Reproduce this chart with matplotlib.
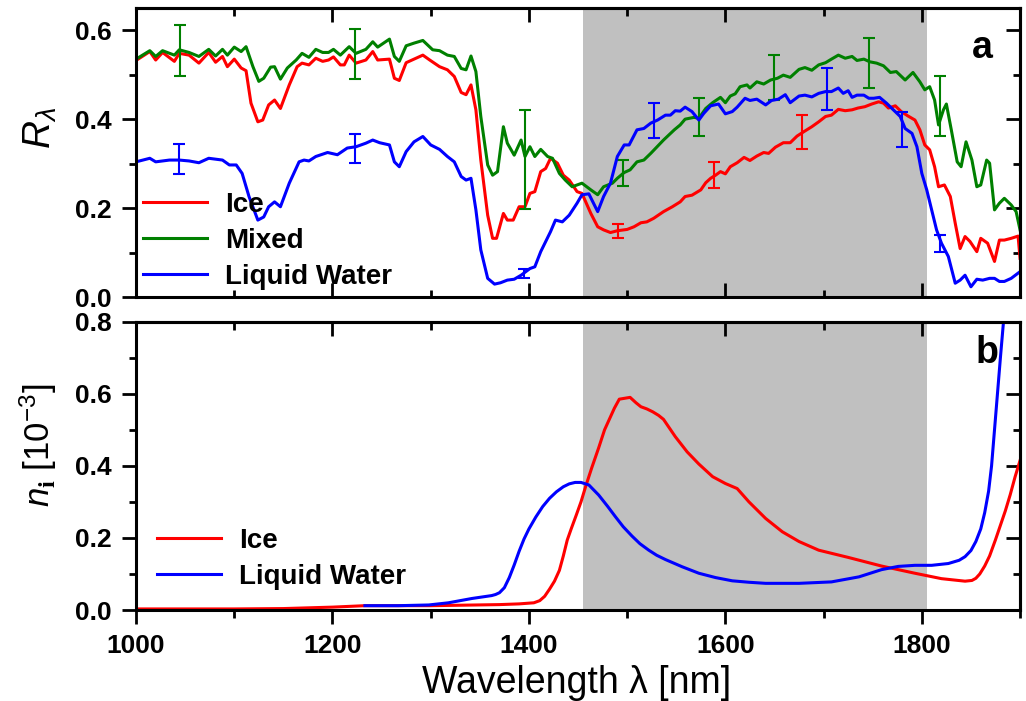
import numpy as np
import matplotlib
matplotlib.use('Agg')
import matplotlib.pyplot as plt
from matplotlib.ticker import MultipleLocator

plt.rcParams['font.family'] = ['Liberation Sans', 'DejaVu Sans']
plt.rcParams['font.weight'] = 'bold'
plt.rcParams['mathtext.fontset'] = 'custom'
plt.rcParams['mathtext.rm'] = 'Liberation Sans:weight=normal'
plt.rcParams['mathtext.it'] = 'Liberation Sans:style=italic:weight=normal'
plt.rcParams['mathtext.bf'] = 'Liberation Serif:weight=bold'

# ---- panel a: reflectance (wavelength nm, R) ----
refl_ice = [
    (1000, 0.532), (1014, 0.552), (1020, 0.533), (1027, 0.550), (1039, 0.530), (1044, 0.548),
    (1054, 0.544), (1064, 0.526), (1074, 0.550), (1081, 0.528), (1088, 0.541), (1093, 0.518),
    (1100, 0.535), (1107, 0.515), (1112, 0.509), (1117, 0.436), (1124, 0.394), (1129, 0.398),
    (1135, 0.432), (1141, 0.443), (1147, 0.424), (1156, 0.477), (1164, 0.518), (1169, 0.526),
    (1176, 0.522), (1183, 0.537), (1190, 0.530), (1196, 0.533), (1201, 0.540), (1208, 0.522),
    (1212, 0.522), (1217, 0.544), (1224, 0.526), (1234, 0.533), (1241, 0.552), (1246, 0.533),
    (1258, 0.535), (1263, 0.492), (1268, 0.487), (1275, 0.527), (1283, 0.535), (1292, 0.544),
    (1299, 0.533), (1309, 0.518), (1317, 0.511), (1324, 0.496), (1331, 0.460), (1336, 0.455),
    (1341, 0.477), (1346, 0.421), (1351, 0.308), (1358, 0.184), (1363, 0.132), (1367, 0.132),
    (1374, 0.188), (1378, 0.173), (1384, 0.173), (1390, 0.203), (1396, 0.203), (1401, 0.233),
    (1406, 0.237), (1412, 0.282), (1417, 0.289), (1422, 0.312), (1429, 0.301), (1435, 0.274),
    (1441, 0.263), (1449, 0.237), (1454, 0.233), (1463, 0.188), (1470, 0.158), (1476, 0.151),
    (1483, 0.145), (1490, 0.149), (1500, 0.152), (1507, 0.158), (1514, 0.167), (1520, 0.169),
    (1527, 0.177), (1537, 0.192), (1546, 0.203), (1554, 0.214), (1559, 0.226), (1566, 0.229),
    (1575, 0.241), (1580, 0.257), (1585, 0.267), (1590, 0.274), (1595, 0.282), (1600, 0.277),
    (1605, 0.293), (1612, 0.302), (1619, 0.314), (1625, 0.307), (1632, 0.317), (1639, 0.325),
    (1644, 0.323), (1651, 0.337), (1659, 0.347), (1666, 0.347), (1673, 0.362), (1680, 0.372),
    (1688, 0.383), (1695, 0.394), (1702, 0.406), (1708, 0.409), (1715, 0.422), (1722, 0.419),
    (1729, 0.421), (1735, 0.425), (1742, 0.428), (1749, 0.434), (1756, 0.439), (1761, 0.436),
    (1766, 0.425), (1773, 0.430), (1779, 0.417), (1786, 0.407), (1793, 0.398), (1798, 0.376),
    (1803, 0.342), (1808, 0.331), (1813, 0.293), (1817, 0.248), (1823, 0.252), (1829, 0.226),
    (1834, 0.166), (1839, 0.109), (1844, 0.136), (1849, 0.125), (1856, 0.102), (1860, 0.132),
    (1867, 0.121), (1874, 0.080), (1879, 0.128), (1884, 0.128), (1891, 0.132), (1898, 0.137),
    (1900, 0.087),
]

refl_mixed = [
    (1000, 0.535), (1014, 0.554), (1020, 0.541), (1027, 0.554), (1039, 0.544), (1044, 0.556),
    (1054, 0.550), (1064, 0.541), (1074, 0.557), (1081, 0.542), (1088, 0.557), (1093, 0.544),
    (1100, 0.562), (1107, 0.552), (1112, 0.563), (1119, 0.518), (1125, 0.485), (1130, 0.492),
    (1137, 0.517), (1141, 0.518), (1147, 0.490), (1154, 0.515), (1163, 0.533), (1169, 0.548),
    (1176, 0.539), (1183, 0.557), (1190, 0.550), (1196, 0.550), (1201, 0.557), (1208, 0.544),
    (1217, 0.563), (1224, 0.548), (1234, 0.557), (1241, 0.574), (1246, 0.562), (1258, 0.580),
    (1263, 0.541), (1268, 0.530), (1275, 0.565), (1283, 0.571), (1292, 0.577), (1302, 0.556),
    (1309, 0.554), (1317, 0.544), (1324, 0.541), (1331, 0.514), (1336, 0.511), (1341, 0.542),
    (1346, 0.507), (1351, 0.406), (1358, 0.297), (1363, 0.274), (1368, 0.282), (1374, 0.383),
    (1378, 0.346), (1385, 0.319), (1392, 0.353), (1396, 0.316), (1401, 0.338), (1406, 0.316),
    (1412, 0.332), (1419, 0.316), (1424, 0.312), (1431, 0.278), (1437, 0.263), (1444, 0.248),
    (1454, 0.256), (1463, 0.241), (1470, 0.230), (1476, 0.248), (1485, 0.256), (1490, 0.267),
    (1497, 0.280), (1503, 0.286), (1510, 0.304), (1517, 0.308), (1524, 0.323), (1537, 0.353),
    (1548, 0.376), (1554, 0.387), (1559, 0.400), (1568, 0.404), (1573, 0.402), (1580, 0.424),
    (1587, 0.437), (1595, 0.449), (1600, 0.437), (1605, 0.452), (1610, 0.457), (1615, 0.473),
    (1622, 0.477), (1625, 0.470), (1632, 0.484), (1639, 0.479), (1646, 0.488), (1653, 0.492),
    (1659, 0.499), (1666, 0.494), (1675, 0.512), (1681, 0.516), (1688, 0.510), (1695, 0.522),
    (1702, 0.527), (1708, 0.535), (1715, 0.544), (1722, 0.537), (1729, 0.541), (1734, 0.532),
    (1741, 0.535), (1747, 0.529), (1754, 0.526), (1761, 0.520), (1768, 0.505), (1774, 0.507),
    (1783, 0.488), (1791, 0.505), (1798, 0.484), (1803, 0.466), (1808, 0.473), (1813, 0.443),
    (1817, 0.387), (1822, 0.421), (1825, 0.434), (1830, 0.376), (1836, 0.304), (1840, 0.293),
    (1845, 0.349), (1851, 0.308), (1856, 0.248), (1860, 0.252), (1866, 0.308), (1869, 0.301),
    (1874, 0.196), (1879, 0.211), (1884, 0.222), (1891, 0.207), (1896, 0.192), (1900, 0.151),
]

refl_water = [
    (1000, 0.304), (1014, 0.312), (1020, 0.304), (1034, 0.308), (1044, 0.308), (1054, 0.306),
    (1064, 0.302), (1074, 0.312), (1088, 0.308), (1095, 0.297), (1102, 0.297), (1108, 0.278),
    (1115, 0.226), (1124, 0.173), (1130, 0.180), (1135, 0.203), (1141, 0.214), (1147, 0.203),
    (1156, 0.256), (1166, 0.304), (1171, 0.308), (1176, 0.306), (1183, 0.316), (1195, 0.325),
    (1205, 0.320), (1215, 0.335), (1224, 0.338), (1234, 0.346), (1241, 0.353), (1248, 0.347),
    (1258, 0.342), (1263, 0.304), (1268, 0.293), (1275, 0.327), (1283, 0.349), (1292, 0.361),
    (1300, 0.342), (1309, 0.332), (1317, 0.316), (1324, 0.304), (1331, 0.271), (1336, 0.263),
    (1341, 0.267), (1346, 0.196), (1351, 0.106), (1358, 0.042), (1365, 0.029), (1371, 0.032),
    (1378, 0.038), (1385, 0.040), (1392, 0.049), (1401, 0.064), (1406, 0.068), (1412, 0.102),
    (1422, 0.147), (1427, 0.173), (1434, 0.169), (1441, 0.184), (1449, 0.211), (1454, 0.230),
    (1461, 0.232), (1470, 0.192), (1476, 0.226), (1483, 0.256), (1490, 0.316), (1497, 0.342),
    (1502, 0.342), (1510, 0.376), (1517, 0.379), (1524, 0.391), (1531, 0.398), (1539, 0.409),
    (1544, 0.409), (1549, 0.419), (1554, 0.418), (1559, 0.427), (1566, 0.417), (1573, 0.398),
    (1578, 0.413), (1585, 0.430), (1593, 0.434), (1600, 0.412), (1607, 0.417), (1612, 0.427),
    (1620, 0.447), (1625, 0.442), (1632, 0.445), (1641, 0.432), (1647, 0.442), (1654, 0.445),
    (1661, 0.455), (1666, 0.437), (1675, 0.452), (1681, 0.454), (1688, 0.450), (1695, 0.458),
    (1702, 0.462), (1708, 0.462), (1715, 0.470), (1720, 0.458), (1725, 0.464), (1729, 0.449),
    (1734, 0.454), (1741, 0.454), (1746, 0.447), (1751, 0.447), (1757, 0.449), (1764, 0.436),
    (1771, 0.421), (1778, 0.406), (1783, 0.379), (1790, 0.368), (1795, 0.338), (1800, 0.278),
    (1805, 0.241), (1810, 0.196), (1815, 0.151), (1820, 0.121), (1827, 0.091), (1834, 0.031),
    (1839, 0.038), (1844, 0.049), (1850, 0.023), (1856, 0.040), (1862, 0.038), (1869, 0.042),
    (1874, 0.042), (1879, 0.035), (1884, 0.035), (1891, 0.042), (1900, 0.057),
]

# error bars (wavelength, centre, half-width)
err_ice = [(1491, 0.149, 0.016), (1588, 0.275, 0.029), (1678, 0.371, 0.038)]
err_mixed = [(1045, 0.555, 0.057), (1223, 0.546, 0.056), (1396, 0.310, 0.111),
             (1496, 0.279, 0.029), (1573, 0.405, 0.042), (1649, 0.494, 0.050),
             (1746, 0.526, 0.057), (1818, 0.430, 0.067)]
err_water = [(1044, 0.310, 0.033), (1223, 0.334, 0.033), (1395, 0.052, 0.010),
             (1527, 0.397, 0.040), (1703, 0.468, 0.047), (1780, 0.376, 0.039),
             (1818, 0.121, 0.019)]

# ---- panel b: imaginary refractive index (x 1e-3) ----
ni_ice = [
    (1000, 0.003), (1100, 0.003), (1150, 0.004), (1200, 0.008), (1233, 0.012), (1300, 0.012),
    (1370, 0.015), (1390, 0.017), (1405, 0.020), (1411, 0.026), (1416, 0.038), (1421, 0.058),
    (1426, 0.080), (1431, 0.110), (1435, 0.150), (1439, 0.194), (1443, 0.225), (1448, 0.262),
    (1453, 0.300), (1458, 0.345), (1464, 0.395), (1471, 0.450), (1477, 0.500), (1482, 0.530),
    (1487, 0.560), (1492, 0.585), (1503, 0.590), (1509, 0.575), (1514, 0.564), (1520, 0.558),
    (1526, 0.550), (1532, 0.540), (1537, 0.529), (1549, 0.481), (1561, 0.439), (1573, 0.405),
    (1587, 0.370), (1600, 0.351), (1612, 0.337), (1624, 0.300), (1641, 0.254), (1658, 0.217),
    (1675, 0.190), (1695, 0.166), (1725, 0.146), (1759, 0.122), (1793, 0.102), (1820, 0.087),
    (1844, 0.080), (1851, 0.082), (1855, 0.088), (1859, 0.100), (1864, 0.122), (1869, 0.150),
    (1875, 0.195), (1880, 0.235), (1885, 0.275), (1890, 0.320), (1895, 0.370), (1900, 0.415),
]

ni_water = [
    (1233, 0.012), (1267, 0.012), (1298, 0.014), (1318, 0.020), (1342, 0.032), (1362, 0.040),
    (1366, 0.043), (1370, 0.048), (1375, 0.062), (1380, 0.090), (1385, 0.125), (1390, 0.163),
    (1395, 0.197), (1400, 0.225), (1407, 0.258), (1414, 0.287), (1421, 0.310), (1428, 0.328),
    (1435, 0.342), (1441, 0.350), (1447, 0.354), (1453, 0.354), (1461, 0.347), (1471, 0.319),
    (1480, 0.288), (1488, 0.259), (1496, 0.231), (1505, 0.205), (1513, 0.184), (1522, 0.166),
    (1530, 0.152), (1539, 0.140), (1556, 0.120), (1573, 0.102), (1590, 0.090), (1607, 0.081),
    (1624, 0.077), (1641, 0.074), (1675, 0.074), (1708, 0.078), (1736, 0.092), (1759, 0.112),
    (1776, 0.121), (1793, 0.124), (1810, 0.124), (1827, 0.129), (1838, 0.138), (1844, 0.148),
    (1850, 0.165), (1855, 0.190), (1860, 0.225), (1864, 0.270), (1868, 0.330), (1871, 0.400),
    (1874, 0.500), (1877, 0.600), (1880, 0.700), (1883, 0.795), (1886, 0.880),
]

band = (1455, 1805)
RED, GREEN, BLUE = '#ff0000', '#008000', '#0000ff'
LW = 2.2
FS_TICK = 19
FS_LEG = 20


def xy(pairs):
    a = np.array(pairs, dtype=float)
    return a[:, 0], a[:, 1]


def style_axes(ax, bottom_dir):
    for s in ax.spines.values():
        s.set_linewidth(2.2)
    ax.set_xlim(1000, 1900)
    ax.xaxis.set_major_locator(MultipleLocator(200))
    ax.xaxis.set_minor_locator(MultipleLocator(100))
    ax.yaxis.set_major_locator(MultipleLocator(0.2))
    ax.yaxis.set_minor_locator(MultipleLocator(0.1))
    ax.yaxis.set_major_formatter(plt.FormatStrFormatter('%.1f'))
    ax.tick_params(which='both', width=2, labelsize=FS_TICK, pad=7.5)
    ax.tick_params(which='major', length=10)
    ax.tick_params(which='minor', length=5.4)
    ax.tick_params(axis='y', which='both', direction='out', right=False)
    ax.tick_params(axis='x', which='both', direction=bottom_dir, top=False)
    sx = ax.secondary_xaxis('top')
    sx.xaxis.set_major_locator(MultipleLocator(200))
    sx.xaxis.set_minor_locator(MultipleLocator(100))
    sx.tick_params(which='both', direction='in', width=2, labeltop=False)
    sx.tick_params(which='major', length=10)
    sx.tick_params(which='minor', length=5.4)
    sx.spines['top'].set_linewidth(2.2)
    sy = ax.secondary_yaxis('right')
    sy.yaxis.set_major_locator(MultipleLocator(0.2))
    sy.yaxis.set_minor_locator(MultipleLocator(0.1))
    sy.tick_params(which='both', direction='in', width=2, labelright=False)
    sy.tick_params(which='major', length=10)
    sy.tick_params(which='minor', length=5.4)
    sy.spines['right'].set_linewidth(2.2)


def add_legend(ax, x0, y0):
    ax.legend(loc='upper left', bbox_to_anchor=(x0, y0), frameon=False,
              fontsize=FS_LEG, handlelength=2.3, handletextpad=0.65,
              labelspacing=0.36, borderaxespad=0, borderpad=0)


fig = plt.figure(figsize=(10.26, 7.01), dpi=100)
ax1 = fig.add_axes([0.1326, 0.5763, 0.8616, 0.4123])
ax2 = fig.add_axes([0.1326, 0.1298, 0.8616, 0.4113])

# panel a
ax1.axvspan(*band, color='#c0c0c0', lw=0, zorder=0)
for pairs, errs, col, lab in [(refl_ice, err_ice, RED, 'Ice'),
                              (refl_mixed, err_mixed, GREEN, 'Mixed'),
                              (refl_water, err_water, BLUE, 'Liquid Water')]:
    x, y = xy(pairs)
    ax1.plot(x, y, color=col, lw=LW, label=lab)
    e = np.array(errs)
    ax1.errorbar(e[:, 0], e[:, 1], yerr=e[:, 2], fmt='none', ecolor=col,
                 elinewidth=1.5, capsize=4.5, capthick=1.5)
ax1.set_ylim(0, 0.65)
style_axes(ax1, 'in')
ax1.tick_params(axis='x', labelbottom=False)
add_legend(ax1, 0.008, 0.363)
ax1.text(0.957, 0.827, 'a', transform=ax1.transAxes, fontsize=27,
         fontweight='bold', ha='center', va='baseline')

# panel b
ax2.axvspan(*band, color='#c0c0c0', lw=0, zorder=0)
x, y = xy(ni_ice)
ax2.plot(x, y, color=RED, lw=LW, label='Ice')
x, y = xy(ni_water)
ax2.plot(x, y, color=BLUE, lw=LW, label='Liquid Water')
ax2.set_ylim(0, 0.8)
style_axes(ax2, 'out')
add_legend(ax2, 0.024, 0.286)
ax2.text(0.963, 0.857, 'b', transform=ax2.transAxes, fontsize=27,
         fontweight='bold', ha='center', va='baseline')

fig.text(40 / 1026, 1 - 128 / 701, r'$R_\lambda$', rotation=90, fontsize=28,
         ha='center', va='center', fontweight='normal')
fig.text(38 / 1026, 1 - 445 / 701, r'$n_\mathbf{i}$ [10$^{-3}$]', rotation=90,
         fontsize=25, ha='center', va='center', fontweight='normal')
fig.text(0.562, 1 - 693 / 701, 'Wavelength λ [nm]', fontsize=27,
         ha='center', va='baseline', fontweight='normal')

fig.savefig('out.png', dpi=100)
